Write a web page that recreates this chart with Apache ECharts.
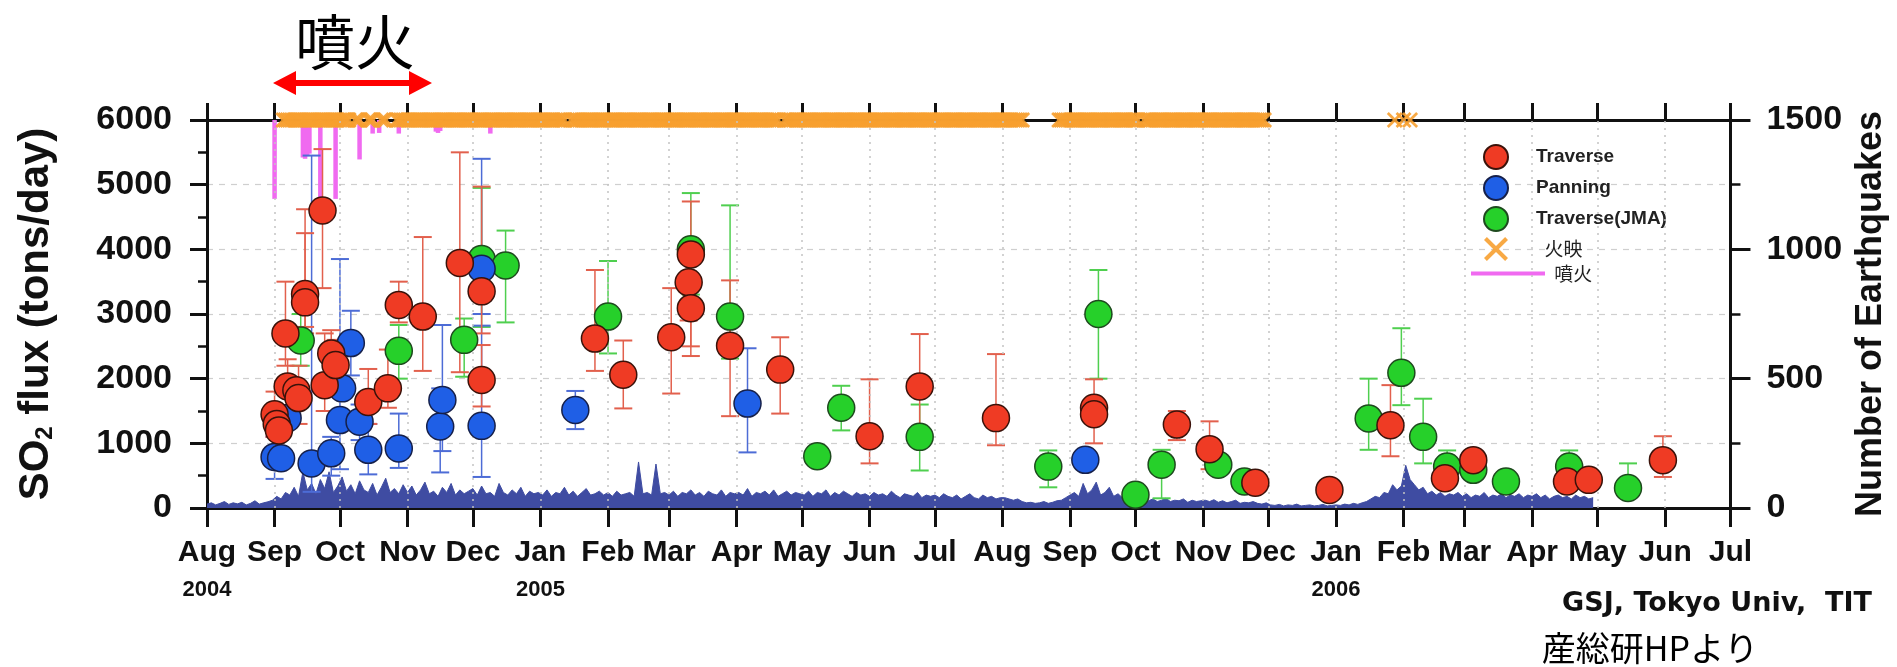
<!DOCTYPE html>
<html><head><meta charset="utf-8">
<script src="https://cdn.jsdelivr.net/npm/echarts@6/dist/echarts.min.js"></script>
<style>html,body{margin:0;padding:0;background:#fff;}#c{width:1897px;height:667px;}</style>
</head><body><div id="c"></div>
<script>
// ---------- data ----------
const monthTicks = ['2004-08-01','2004-09-01','2004-10-01','2004-11-01','2004-12-01','2005-01-01','2005-02-01','2005-03-01','2005-04-01','2005-05-01','2005-06-01','2005-07-01','2005-08-01','2005-09-01','2005-10-01','2005-11-01','2005-12-01','2006-01-01','2006-02-01','2006-03-01','2006-04-01','2006-05-01','2006-06-01','2006-07-01'];
const monthNames = ['Jan','Feb','Mar','Apr','May','Jun','Jul','Aug','Sep','Oct','Nov','Dec'];
const yearLabels = {'2004-08':'2004','2005-01':'2005','2006-01':'2006'};

// [date, SO2 flux, low, high]
const traverse = [
 ['2004-09-01',1450,1100,1800],['2004-09-02',1300,null,null],['2004-09-03',1200,900,1550],
 ['2004-09-06',2700,2200,3500],['2004-09-07',1880,1500,2300],['2004-09-11',1820,null,null],
 ['2004-09-12',1700,1300,2200],['2004-09-15',3310,2800,4250],['2004-09-15',3180,2700,4620],
 ['2004-09-23',4600,3400,5550],['2004-09-24',1900,1500,2700],['2004-09-27',2390,2000,2750],
 ['2004-09-29',2210,1800,2600],['2004-10-14',1640,1300,2150],['2004-10-23',1850,1550,2450],
 ['2004-10-28',3140,2870,3500],['2004-11-08',2960,2120,4190],['2004-11-25',3790,2100,5500],
 ['2004-12-05',3350,2700,4970],['2004-12-05',1980,1570,2520],['2005-01-26',2620,2120,3680],
 ['2005-02-08',2060,1540,2590],['2005-03-02',2640,1770,3400],['2005-03-10',3490,2900,4100],
 ['2005-03-11',3920,2350,4740],['2005-03-11',3090,2500,3600],['2005-03-29',2510,1420,3520],
 ['2005-04-21',2140,1460,2640],['2005-06-01',1110,690,1990],['2005-06-24',1880,1200,2690],
 ['2005-07-29',1390,970,2380],['2005-09-12',1550,1000,1990],['2005-09-12',1450,null,null],
 ['2005-10-20',1290,1050,1500],['2005-11-04',910,600,1340],['2005-11-25',390,null,null],
 ['2005-12-29',280,null,null],['2006-01-26',1280,800,1900],['2006-02-20',460,null,null],
 ['2006-03-05',740,null,null],['2006-04-17',410,null,null],['2006-04-27',435,null,null],
 ['2006-05-31',740,480,1110]
];
const panning = [
 ['2004-09-01',790,450,1100],['2004-09-04',770,null,null],['2004-09-07',1390,null,null],
 ['2004-09-18',690,250,5450],['2004-09-27',845,500,1100],['2004-10-01',1360,600,3850],
 ['2004-10-02',1850,null,null],['2004-10-06',2550,2050,3050],['2004-10-10',1335,1050,1600],
 ['2004-10-14',900,520,1300],['2004-10-28',920,620,1460],['2004-11-16',1260,550,1850],
 ['2004-11-17',1670,880,2830],['2004-12-05',3700,3000,5400],['2004-12-05',1270,480,2820],
 ['2005-01-17',1515,1220,1810],['2005-04-06',1615,860,2470],['2005-09-08',745,null,null]
];
const traverseJMA = [
 ['2004-09-13',2590,2200,3000],['2004-10-28',2430,2000,2830],['2004-11-27',2600,2030,2930],
 ['2004-12-05',3850,2800,4950],['2004-12-16',3750,2870,4290],['2005-02-01',2960,2390,3820],
 ['2005-03-11',4000,3300,4870],['2005-03-29',2960,2310,4680],['2005-05-08',800,null,null],
 ['2005-05-19',1550,1200,1890],['2005-06-24',1100,580,1600],['2005-08-22',640,320,890],
 ['2005-09-14',3000,2000,3680],['2005-10-01',205,null,null],['2005-10-13',670,150,900],
 ['2005-11-08',670,520,820],['2005-11-20',410,null,null],['2006-01-16',1385,900,2000],
 ['2006-01-31',2090,1590,2780],['2006-02-10',1100,690,1690],['2006-02-21',640,390,890],
 ['2006-03-05',590,null,null],['2006-03-20',410,null,null],['2006-04-18',640,390,890],
 ['2006-05-15',310,310,690]
];
// 火映 (glow) observed periods [start, end]
const glowPeriods = [
 ['2004-09-05','2004-10-05'],['2004-10-08','2004-10-10'],['2004-10-14','2004-10-16'],
 ['2004-10-20','2004-10-22'],['2004-10-27','2005-01-12'],['2005-01-15','2005-04-20'],
 ['2005-04-23','2005-08-10'],['2005-08-27','2005-10-02'],['2005-10-05','2005-11-29'],
 ['2006-01-28','2006-01-28'],['2006-02-01','2006-02-01'],['2006-02-04','2006-02-04']
];
// 噴火 (eruptions): date, lower end of the marker line (left-axis units)
const eruptionDates = ['2004-09-01','2004-09-14','2004-09-15','2004-09-16','2004-09-17','2004-09-22','2004-09-29','2004-10-10','2004-10-16','2004-10-19','2004-10-28','2004-11-14','2004-11-15','2004-11-16','2004-12-09'];
const eruptionDepth = [4780,5420,5400,5440,5480,4780,4780,5390,5790,5800,5790,5820,5800,5830,5790];
// earthquake counts (right axis), one value per 2 days starting 2004-08-01
const quakeStart = '2004-08-01';
const quakeStepDays = 2;
const quakeCounts = [
 15,20,12,18,25,14,20,16,22,12,18,28,15,20,24,30,
 45,35,60,50,80,45,140,70,95,55,110,75,140,60,85,
 120,65,90,55,105,70,60,95,50,80,115,60,75,55,90,
 60,85,50,70,100,55,65,45,80,60,95,50,70,55,65,
 75,50,85,55,60,45,95,60,50,70,55,80,45,65,55,60,
 50,70,45,60,55,80,50,65,45,60,75,50,55,65,50,
 60,45,65,50,55,60,45,178,55,60,50,170,55,60,
 50,65,45,60,55,70,50,60,45,65,55,50,70,45,60,55,
 60,50,75,45,60,55,65,50,70,45,55,65,50,60,55,
 50,65,45,60,55,70,45,60,50,65,55,45,60,50,55,
 45,60,50,55,45,65,50,40,55,50,45,60,40,50,45,
 50,40,55,45,40,50,35,45,55,40,35,50,40,45,35,40,
 40,35,30,35,25,20,22,18,20,25,18,22,28,30,40,
 50,60,45,95,55,70,100,50,60,80,45,55,40,60,45,
 35,30,40,28,35,25,30,38,25,30,28,35,22,30,25,28,
 30,25,32,22,28,20,25,30,18,22,20,25,18,15,20,
 12,10,14,8,12,10,15,8,10,12,8,10,14,8,10,
 12,10,15,12,18,14,20,25,35,45,40,60,55,90,70,85,
 165,110,90,70,80,55,65,50,60,45,55,50,60,45,
 55,40,50,45,60,40,50,45,55,40,50,45,55,40,50,
 45,55,40,50,35,45,50,40,45,35,50,40,45,35,40];

// ---------- helpers ----------
function toTime(s){const p=s.split('-').map(Number);return Date.UTC(p[0],p[1]-1,p[2]);}
function addDays(s,n){const p=s.split('-').map(Number);return Date.UTC(p[0],p[1]-1,p[2]+n);}
const tickTimes = monthTicks.map(toTime);

const glowData = [];
glowPeriods.forEach(function(pr){
  const end = toTime(pr[1]);
  for(let k=0;;k++){const t=addDays(pr[0],k); if(t>end)break; glowData.push([t,6000]);}
});
const eruptionData = eruptionDates.map(function(d,i){return [toTime(d), eruptionDepth[i]];});
const quakeData = quakeCounts.map(function(v,i){return [addDays(quakeStart,i*quakeStepDays), v];});

const FONT = 'Liberation Sans';
const CJK = 'Noto Sans CJK JP';
const C = {
  red:'#ef3b24', blue:'#1f5fe6', green:'#26d02a',
  redBar:'#e2604d', blueBar:'#4d6cd6', greenBar:'#4fcf4f',
  glow:'#f7a030', erupt:'#f06af0', quake:'#3f4ca2'
};

function errBar(name, rows, color, z){
  return {
    type:'custom', name:name, xAxisIndex:0, yAxisIndex:0, z:z, silent:true,
    data: rows.filter(r=>r[2]!=null||r[3]!=null).map(r=>[toTime(r[0]),r[1],r[2]==null?r[1]:r[2],r[3]==null?r[1]:r[3]]),
    encode:{x:0,y:[2,3]},
    renderItem:function(params, api){
      const x=api.value(0), lo=api.value(2), hi=api.value(3);
      const a=api.coord([x,hi]), b=api.coord([x,lo]); const w=9;
      return {type:'group', children:[
        {type:'line', shape:{x1:a[0],y1:a[1],x2:b[0],y2:b[1]}, style:{stroke:color,lineWidth:1.5}},
        {type:'line', shape:{x1:a[0]-w,y1:a[1],x2:a[0]+w,y2:a[1]}, style:{stroke:color,lineWidth:2}},
        {type:'line', shape:{x1:b[0]-w,y1:b[1],x2:b[0]+w,y2:b[1]}, style:{stroke:color,lineWidth:2}}
      ]};
    }
  };
}
function pts(name, rows, color, border, z){
  return {type:'scatter', name:name, xAxisIndex:0, yAxisIndex:0, z:z, symbol:'circle', symbolSize:27,
    itemStyle:{color:color, borderColor:border, borderWidth:1.5, opacity:1},
    data: rows.map(r=>[toTime(r[0]), r[1]])};
}
const X_PATH = 'path://M0,1.2L1.2,0L5,3.8L8.8,0L10,1.2L6.2,5L10,8.8L8.8,10L5,6.2L1.2,10L0,8.8L3.8,5Z';

const axisLineStyle = {color:'#111', width:3};
const chart = echarts.init(document.getElementById('c'), null, {renderer:'canvas'});
chart.setOption({
  animation:false,
  backgroundColor:'#fff',
  grid:{left:207, right:160, top:120, bottom:159, containLabel:false},
  xAxis:[{
    type:'value', position:'bottom', min:tickTimes[0], max:tickTimes[tickTimes.length-1], scale:true,
    axisLine:{show:true, lineStyle:axisLineStyle, onZero:false},
    axisTick:{show:true, length:19, lineStyle:{color:'#111', width:3}, customValues:tickTimes},
    splitLine:{show:false},
    axisLabel:{show:true, customValues:tickTimes, margin:29, fontFamily:FONT, fontWeight:'bold', fontSize:30, color:'#111', lineHeight:32,
      formatter:function(val){
        const d=new Date(val); const key=d.getUTCFullYear()+'-'+String(d.getUTCMonth()+1).padStart(2,'0');
        let s=monthNames[d.getUTCMonth()];
        if(yearLabels[key]) s += '\n{yr|'+yearLabels[key]+'}';
        return s;
      },
      rich:{yr:{fontFamily:FONT, fontWeight:'bold', fontSize:22, lineHeight:42, color:'#111'}}
    }
  },{
    type:'value', position:'top', min:tickTimes[0], max:tickTimes[tickTimes.length-1], scale:true,
    axisLine:{show:true, lineStyle:axisLineStyle, onZero:false},
    axisTick:{show:true, length:17, lineStyle:{color:'#111', width:3}, customValues:tickTimes},
    axisLabel:{show:false}, splitLine:{show:false}
  }],
  yAxis:[{
    type:'value', position:'left', min:0, max:6000, interval:1000,
    name:'SO{sub|2} flux (tons/day)', nameLocation:'middle', nameRotate:90, nameGap:150,
    nameTextStyle:{fontFamily:FONT, fontWeight:'bold', fontSize:42, color:'#111',
      rich:{sub:{fontFamily:FONT, fontWeight:'bold', fontSize:24, color:'#111', verticalAlign:'bottom'}}},
    axisLine:{show:true, lineStyle:axisLineStyle, onZero:false},
    axisTick:{show:true, length:17, lineStyle:{color:'#111', width:3}},
    minorTick:{show:true, splitNumber:2, length:9, lineStyle:{color:'#111', width:2.5}},
    axisLabel:{margin:35, fontFamily:FONT, fontWeight:'bold', fontSize:34, color:'#111', formatter:function(v){return String(v);}},
    splitLine:{show:true, lineStyle:{color:'#cfcfcf', width:1.2, type:[6,6]}}
  },{
    type:'value', position:'right', min:0, max:1500, interval:500,
    name:'Number of Earthquakes', nameLocation:'middle', nameRotate:90, nameGap:120,
    nameTextStyle:{fontFamily:FONT, fontWeight:'bold', fontSize:36, color:'#111'},
    axisLine:{show:true, lineStyle:axisLineStyle, onZero:false},
    axisTick:{show:true, length:20, lineStyle:{color:'#111', width:3}},
    minorTick:{show:true, splitNumber:2, length:10, lineStyle:{color:'#111', width:2.5}},
    axisLabel:{margin:36, fontFamily:FONT, fontWeight:'bold', fontSize:34, color:'#111', formatter:function(v){return String(v);}},
    splitLine:{show:false}
  }],
  legend:[{
    orient:'vertical', left:1478, top:139, itemWidth:70, itemHeight:24, itemGap:5, selectedMode:false,
    data:['Traverse','Panning','Traverse(JMA)','火映'],
    formatter:function(n){return n==='火映' ? '{c|  火映}' : n;},
    textStyle:{fontFamily:FONT, fontWeight:'bold', fontSize:19, color:'#222',
      rich:{c:{fontFamily:CJK, fontWeight:'normal', fontSize:19, color:'#222'}}}
  },{
    orient:'vertical', left:1466, top:259, itemWidth:74, itemHeight:4, selectedMode:false,
    data:[{name:'噴火', icon:'rect'}],
    formatter:function(n){return ' '+n;},
    textStyle:{fontFamily:CJK, fontWeight:'normal', fontSize:19, color:'#222'}
  }],
  series:[
    {type:'line', name:'Earthquakes', xAxisIndex:0, yAxisIndex:1, z:1, showSymbol:false, silent:true,
     lineStyle:{color:C.quake, width:1}, areaStyle:{color:C.quake, opacity:1},
     data:quakeData,
     markLine:{silent:true, symbol:['none','none'], label:{show:false}, animation:false,
       lineStyle:{color:'#c4c4c4', width:1.5, type:[2,5]},
       data: tickTimes.slice(1,-1).map(t=>({xAxis:t}))}},
    {type:'custom', name:'噴火', xAxisIndex:0, yAxisIndex:0, z:2, silent:true,
     itemStyle:{color:C.erupt},
     data:eruptionData, encode:{x:0,y:1},
     renderItem:function(params, api){
       const x=api.value(0); const a=api.coord([x,6000]), b=api.coord([x,api.value(1)]);
       return {type:'line', shape:{x1:a[0],y1:a[1],x2:b[0],y2:b[1]}, style:{stroke:C.erupt, lineWidth:4.5}};
     }},
    errBar('Traverse(JMA) err', traverseJMA, C.greenBar, 3),
    errBar('Panning err', panning, C.blueBar, 3),
    errBar('Traverse err', traverse, C.redBar, 3),
    {type:'scatter', name:'火映', xAxisIndex:0, yAxisIndex:0, z:4, clip:false, symbol:X_PATH, symbolSize:16, symbolKeepAspect:true,
     itemStyle:{color:C.glow, opacity:0.9}, data:glowData},
    pts('Traverse(JMA)', traverseJMA, C.green, '#1e4a1e', 5),
    pts('Panning', panning, C.blue, '#16204a', 6),
    pts('Traverse', traverse, C.red, '#3a120a', 7)
  ],
  graphic:[
    {type:'text', x:355, y:42, style:{text:'噴火', font:'60px "Noto Sans CJK JP"', fill:'#000', align:'center', verticalAlign:'middle'}},
    {type:'polygon', shape:{points:[[273,83],[296,71],[296,80],[409,80],[409,71],[432,83],[409,95],[409,86],[296,86],[296,95]]}, style:{fill:'#ff0000'}},
    {type:'text', x:1872, y:604, style:{text:'GSJ, Tokyo Univ,  TIT', font:'bold 27px "DejaVu Sans"', fill:'#111', align:'right', verticalAlign:'middle'}},
    {type:'text', x:1650, y:648, style:{text:'産総研HPより', font:'34px "Noto Sans CJK JP"', fill:'#000', align:'center', verticalAlign:'middle'}}
  ]
});
</script></body></html>
